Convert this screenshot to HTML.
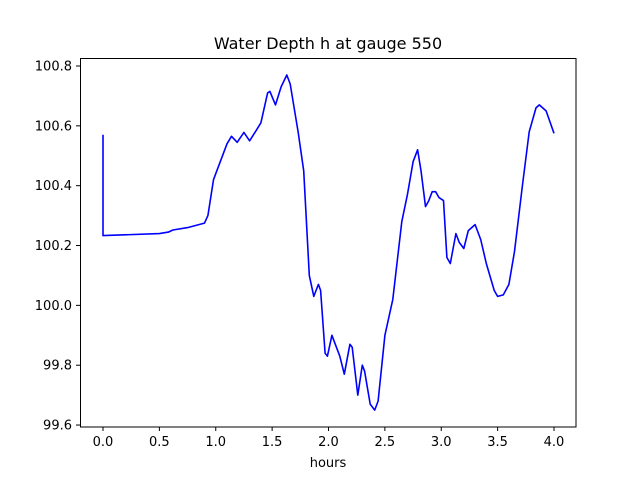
<!DOCTYPE html>
<html><head><meta charset="utf-8"><style>
html,body{margin:0;padding:0;background:#fff;}
svg text{font-family:"DejaVu Sans","Liberation Sans",sans-serif;}
</style></head><body>
<svg width="640" height="480" xmlns="http://www.w3.org/2000/svg">
<rect width="640" height="480" fill="#fff"/>
<text x="328" y="49" font-size="16" text-anchor="middle">Water Depth h at gauge 550</text>
<g id="plot"></g>
<rect x="80.5" y="58.5" width="495.5" height="368.5" fill="none" stroke="#000" stroke-width="1"/>
<g id="xt"></g><g id="yt"></g>
<text x="328" y="467" font-size="13" text-anchor="middle">hours</text>
</svg>
<script>
const times=[0,0,0.5,0.58,0.62,0.75,0.9,0.93,0.98,1.02,1.1,1.14,1.19,1.25,1.3,1.36,1.4,1.46,1.48,1.53,1.58,1.63,1.66,1.73,1.78,1.83,1.87,1.91,1.93,1.97,1.99,2.03,2.07,2.1,2.14,2.19,2.21,2.26,2.3,2.32,2.37,2.41,2.44,2.5,2.57,2.65,2.7,2.75,2.79,2.82,2.86,2.89,2.92,2.95,2.98,3.02,3.05,3.08,3.13,3.16,3.2,3.24,3.3,3.35,3.4,3.47,3.5,3.55,3.6,3.65,3.72,3.78,3.84,3.87,3.93,4.0];
const depth=[100.57,100.233,100.24,100.245,100.252,100.26,100.275,100.30,100.42,100.46,100.54,100.565,100.545,100.578,100.55,100.585,100.61,100.71,100.715,100.67,100.73,100.77,100.74,100.58,100.45,100.10,100.03,100.07,100.05,99.84,99.83,99.90,99.86,99.83,99.77,99.87,99.86,99.70,99.80,99.78,99.67,99.65,99.68,99.90,100.02,100.28,100.37,100.48,100.52,100.45,100.33,100.35,100.38,100.38,100.36,100.35,100.16,100.14,100.24,100.21,100.19,100.25,100.27,100.22,100.14,100.05,100.03,100.035,100.07,100.18,100.40,100.58,100.66,100.67,100.65,100.575];
const xTicks=[0,0.5,1,1.5,2,2.5,3,3.5,4];
const xTickLabels=["0.0","0.5","1.0","1.5","2.0","2.5","3.0","3.5","4.0"];
const yTicks=[99.6,99.8,100.0,100.2,100.4,100.6,100.8];
const yTickLabels=["99.6","99.8","100.0","100.2","100.4","100.6","100.8"];
const NS="http://www.w3.org/2000/svg";
function sx(t){return 103+t*112.75;}
function sy(h){return 66+(100.8-h)*299.2;}
const plot=document.getElementById('plot');
const line=document.createElementNS(NS,'polyline');


line.setAttribute('points',times.map((t,i)=>sx(t).toFixed(1)+','+sy(depth[i]).toFixed(1)).join(' '));
line.setAttribute('fill','none');line.setAttribute('stroke','#0000ff');line.setAttribute('stroke-width','1.6');line.setAttribute('stroke-linejoin','round');
plot.appendChild(line);
const xt=document.getElementById('xt');
xTicks.forEach((v,i)=>{
 const x=sx(v);
 const l=document.createElementNS(NS,'line');
 
 
 l.setAttribute('x1',x);l.setAttribute('x2',x);l.setAttribute('y1',427);l.setAttribute('y2',431);l.setAttribute('stroke','#000');
 xt.appendChild(l);
 const t=document.createElementNS(NS,'text');
 
 
 t.setAttribute('x',x);t.setAttribute('y',446);t.setAttribute('font-size','13');t.setAttribute('text-anchor','middle');
 t.textContent=xTickLabels[i];xt.appendChild(t);
});
const yt=document.getElementById('yt');
yTicks.forEach((v,i)=>{
 const y=sy(v);
 const l=document.createElementNS(NS,'line');
 
 
 l.setAttribute('x1',76);l.setAttribute('x2',80.5);l.setAttribute('y1',y);l.setAttribute('y2',y);l.setAttribute('stroke','#000');
 yt.appendChild(l);
 const t=document.createElementNS(NS,'text');
 
 
 t.setAttribute('x',72);t.setAttribute('y',y+4.5);t.setAttribute('font-size','13');t.setAttribute('text-anchor','end');
 t.textContent=yTickLabels[i];yt.appendChild(t);
});
</script>
</body></html>
